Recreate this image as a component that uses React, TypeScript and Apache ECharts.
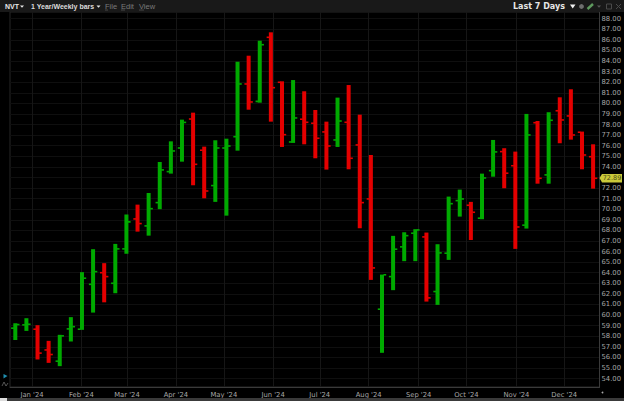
import React, { useEffect, useRef } from "react";
import * as echarts from "echarts";

const opens = [58.76,59.07,58.66,56.7,55.64,58.69,58.66,62.9,64,63,66.25,69.08,68.42,70.62,73.55,75.78,78.52,75.57,72.23,75.78,76.85,81.83,80.19,86.24,81.99,76.35,78.5,78.12,77.3,76.54,78.21,76.07,70.97,60.55,63.63,66.44,67.73,67.38,62.22,65.84,70.81,70.37,69.15,73.64,75.44,74.11,68.49,78.17,73.24,79.3,78.81,77.27,74.96];
const highs = [59.23,59.7,59.04,57.56,58.13,59.8,64.05,66.22,64.9,66.72,69.5,70.43,71.53,74.46,76.41,78.46,79.12,75.91,76.51,76.66,83.93,84.5,85.92,86.71,82.08,82.2,81.14,79.37,78.27,80.54,81.73,78.93,75.12,63.82,67.48,67.82,68.11,67.79,66.69,71.19,71.85,70.69,73.36,76.54,75.76,75.44,79.0,78.33,79.16,80.57,81.33,77.33,76.13];
const lows = [57.65,58.5,55.8,55.48,55.17,57.5,58.6,60.23,61.2,62.06,65.8,67.88,67.5,70,73.36,74.49,72.26,71.03,70.69,69.39,75.53,79.4,80.06,78.27,75.88,76.26,76.13,74.81,73.74,75.88,73.77,68.2,63.32,56.43,62.35,65.09,65.09,61.27,60.96,65.21,69.3,67.09,69.05,73.07,71.98,66.25,68.17,72.41,72.41,76.23,76.57,73.77,71.94];
const closes = [59.1,59.13,56.4,56.27,58.03,58.9,63.48,64.1,63.63,66.25,68.8,68.64,70.05,73.71,75.5,78.2,74.24,71.72,75.78,75.97,81.83,80.13,85.54,81.48,77.04,78.62,78.21,76.7,75.97,78.33,74.81,70.62,64.45,63.8,66.22,67.5,68.04,61.62,65.87,70.52,70.97,69.71,72.95,75.41,73.4,68.32,77.01,72.92,78.4,78.43,77.01,75.12,72.92];
const monthLabels = ["Jan '24","Feb '24","Mar '24","Apr '24","May '24","Jun '24","Jul '24","Aug '24","Sep '24","Oct '24","Nov '24","Dec '24"];
const monthTicks = [1.5,5.95,10.05,14.45,18.77,23.2,27.4,31.8,36.3,40.6,45.1,49.4];
const priceTicks = [54,55,56,57,58,59,60,61,62,63,64,65,66,67,68,69,70,71,72,73,74,75,76,77,78,79,80,81,82,83,84,85,86,87,88];
const lastPrice = "72.89";

const GREEN = "#00aa00";
const RED = "#e40000";
const FONT = "'DejaVu Sans', sans-serif";
const HEAD = "'Liberation Sans', sans-serif";

export default function App() {
  const ref = useRef<HTMLDivElement>(null);
  useEffect(() => {
    const chart = echarts.init(ref.current!, undefined, { renderer: "svg" });
    const data = opens.map((o, i) => [i, o, highs[i], lows[i], closes[i]]);
    const headerText = (x: number, text: string, fill: string, size = 7, weight: any = "bold", family = HEAD) => ({
      type: "text", x, y: 6.5, z: 20,
      style: { text, fill, font: `${weight} ${size}px ${family}`, textVerticalAlign: "middle" },
    });
    const underline = (x1: number, x2: number) => ({
      type: "line", z: 20, shape: { x1, y1: 10, x2, y2: 10 }, style: { stroke: "#6a6a6a", lineWidth: 0.6 },
    });
    chart.setOption({
      animation: false,
      backgroundColor: "#000000",
      grid: { left: 10, right: 24, top: 12, bottom: 14, show: true, borderColor: "#262626", borderWidth: 1 },
      xAxis: {
        type: "value",
        min: -0.477,
        max: 52.58,
        axisLine: { show: true, onZero: false, lineStyle: { color: "#3a3a3a" } },
        axisTick: { show: false, customValues: monthTicks },
        splitLine: { show: true, lineStyle: { color: "#161616", width: 1 } },
        axisLabel: {
          customValues: monthTicks,
          color: "#a6a6a6",
          fontFamily: FONT,
          fontSize: 6.8,
          margin: 4,
          formatter: (v: number) => monthLabels[monthTicks.indexOf(v)] ?? "",
        },
      },
      yAxis: {
        type: "value",
        position: "right",
        min: 53.2,
        max: 88.63,
        axisLine: { show: true, onZero: false, lineStyle: { color: "#3a3a3a" } },
        axisTick: { show: false, customValues: priceTicks },
        splitLine: { show: true, lineStyle: { color: "#0f0f0f", width: 1 } },
        axisLabel: {
          customValues: priceTicks,
          color: "#a6a6a6",
          fontFamily: FONT,
          fontSize: 6.8,
          margin: 2,
          formatter: (v: number) => v.toFixed(2),
        },
      },
      series: [
        {
          type: "custom",
          encode: { x: 0, y: [1, 2, 3, 4] },
          data,
          clip: false,
          renderItem: (_: any, api: any) => {
            const i = api.value(0);
            const o = api.value(1);
            const h = api.value(2);
            const l = api.value(3);
            const c = api.value(4);
            const [x, yh] = api.coord([i, h]);
            const yl = api.coord([i, l])[1];
            const yo = api.coord([i, o])[1];
            const yc = api.coord([i, c])[1];
            const fill = c >= o ? GREEN : RED;
            const bw = 4;
            const tk = 1.6;
            const ext = 2.2;
            const rect = (rx: number, ry: number, w: number, hh: number) => ({
              type: "rect",
              shape: { x: rx, y: ry, width: w, height: hh },
              style: { fill },
            });
            return {
              type: "group",
              children: [
                rect(x - bw / 2, yh, bw, yl - yh),
                rect(x - bw / 2 - ext, yo - tk / 2, ext + 0.5, tk),
                rect(x + bw / 2 - 0.5, yc - tk / 2, ext + 0.5, tk),
              ],
            };
          },
        },
      ],
      graphic: [
        { type: "rect", z: 10, shape: { x: 0, y: 0, width: 624, height: 12 }, style: { fill: "#191919" } },
        headerText(5, "NVT", "#e8e8e8"),
        { type: "polygon", z: 20, shape: { points: [[20, 5.5], [24, 5.5], [22, 7.8]] }, style: { fill: "#e8e8e8" } },
        headerText(31, "1 Year/Weekly bars", "#dcdcdc"),
        { type: "polygon", z: 20, shape: { points: [[96.5, 5.5], [100.5, 5.5], [98.5, 7.8]] }, style: { fill: "#e8e8e8" } },
        headerText(105, "File", "#7a7a7a", 7.5, "normal"),
        underline(105, 108),
        headerText(121, "Edit", "#7a7a7a", 7.5, "normal"),
        underline(121, 125),
        headerText(139, "View", "#7a7a7a", 7.5, "normal"),
        underline(139, 144),
        headerText(513, "Last 7 Days", "#e6e6e6", 8, "bold", FONT),
        { type: "polygon", z: 20, shape: { points: [[570, 4.5], [575.5, 4.5], [572.7, 8.5]] }, style: { fill: "#f0f0f0" } },
        { type: "circle", z: 20, shape: { cx: 581.5, cy: 6.5, r: 2.4 }, style: { fill: "#6e6e6e" } },
        { type: "line", z: 20, shape: { x1: 587.5, y1: 9, x2: 593, y2: 4 }, style: { stroke: "#5f9a5f", lineWidth: 2.4 } },
        { type: "polygon", z: 20, shape: { points: [[597, 5.5], [601, 5.5], [599, 7.8]] }, style: { fill: "#5a5a5a" } },
        { type: "rect", z: 20, shape: { x: 606.5, y: 4, width: 5, height: 5 }, style: { fill: "none", stroke: "#4a4a4a", lineWidth: 1 } },
        { type: "line", z: 20, shape: { x1: 616, y1: 4, x2: 621, y2: 9 }, style: { stroke: "#4a4a4a", lineWidth: 1 } },
        { type: "line", z: 20, shape: { x1: 621, y1: 4, x2: 616, y2: 9 }, style: { stroke: "#4a4a4a", lineWidth: 1 } },
        { type: "polygon", z: 20, shape: { points: [[599.5, 178], [602, 174], [622, 174], [622, 182.5], [602, 182.5]] }, style: { fill: "#c9c83a" } },
        { type: "text", z: 21, x: 612, y: 178.3, style: { text: lastPrice, fill: "#4a4a10", font: `6.5px ${FONT}`, textAlign: "center", textVerticalAlign: "middle" } },
        { type: "polygon", z: 20, shape: { points: [[3.5, 374], [7.5, 376], [3.5, 378.5]] }, style: { fill: "#1f8fb0" } },
        { type: "polyline", z: 20, shape: { points: [[2, 386], [4, 382], [6, 386], [8, 383]] }, style: { stroke: "#6a6a6a", fill: "none", lineWidth: 0.8 } },
        { type: "circle", z: 20, shape: { cx: 602.5, cy: 392.5, r: 0.9 }, style: { fill: "#aaaaaa" } },
        { type: "rect", z: 20, shape: { x: 0, y: 398, width: 624, height: 3 }, style: { fill: "#3a3a3a" } },
        { type: "rect", z: 21, shape: { x: 0, y: 398, width: 7, height: 3 }, style: { fill: "#dddddd" } },
      ],
    });
    return () => chart.dispose();
  }, []);
  return (
    <div
      ref={ref}
      style={{ position: "fixed", left: 0, top: 0, width: 624, height: 401, background: "#000" }}
    />
  );
}
